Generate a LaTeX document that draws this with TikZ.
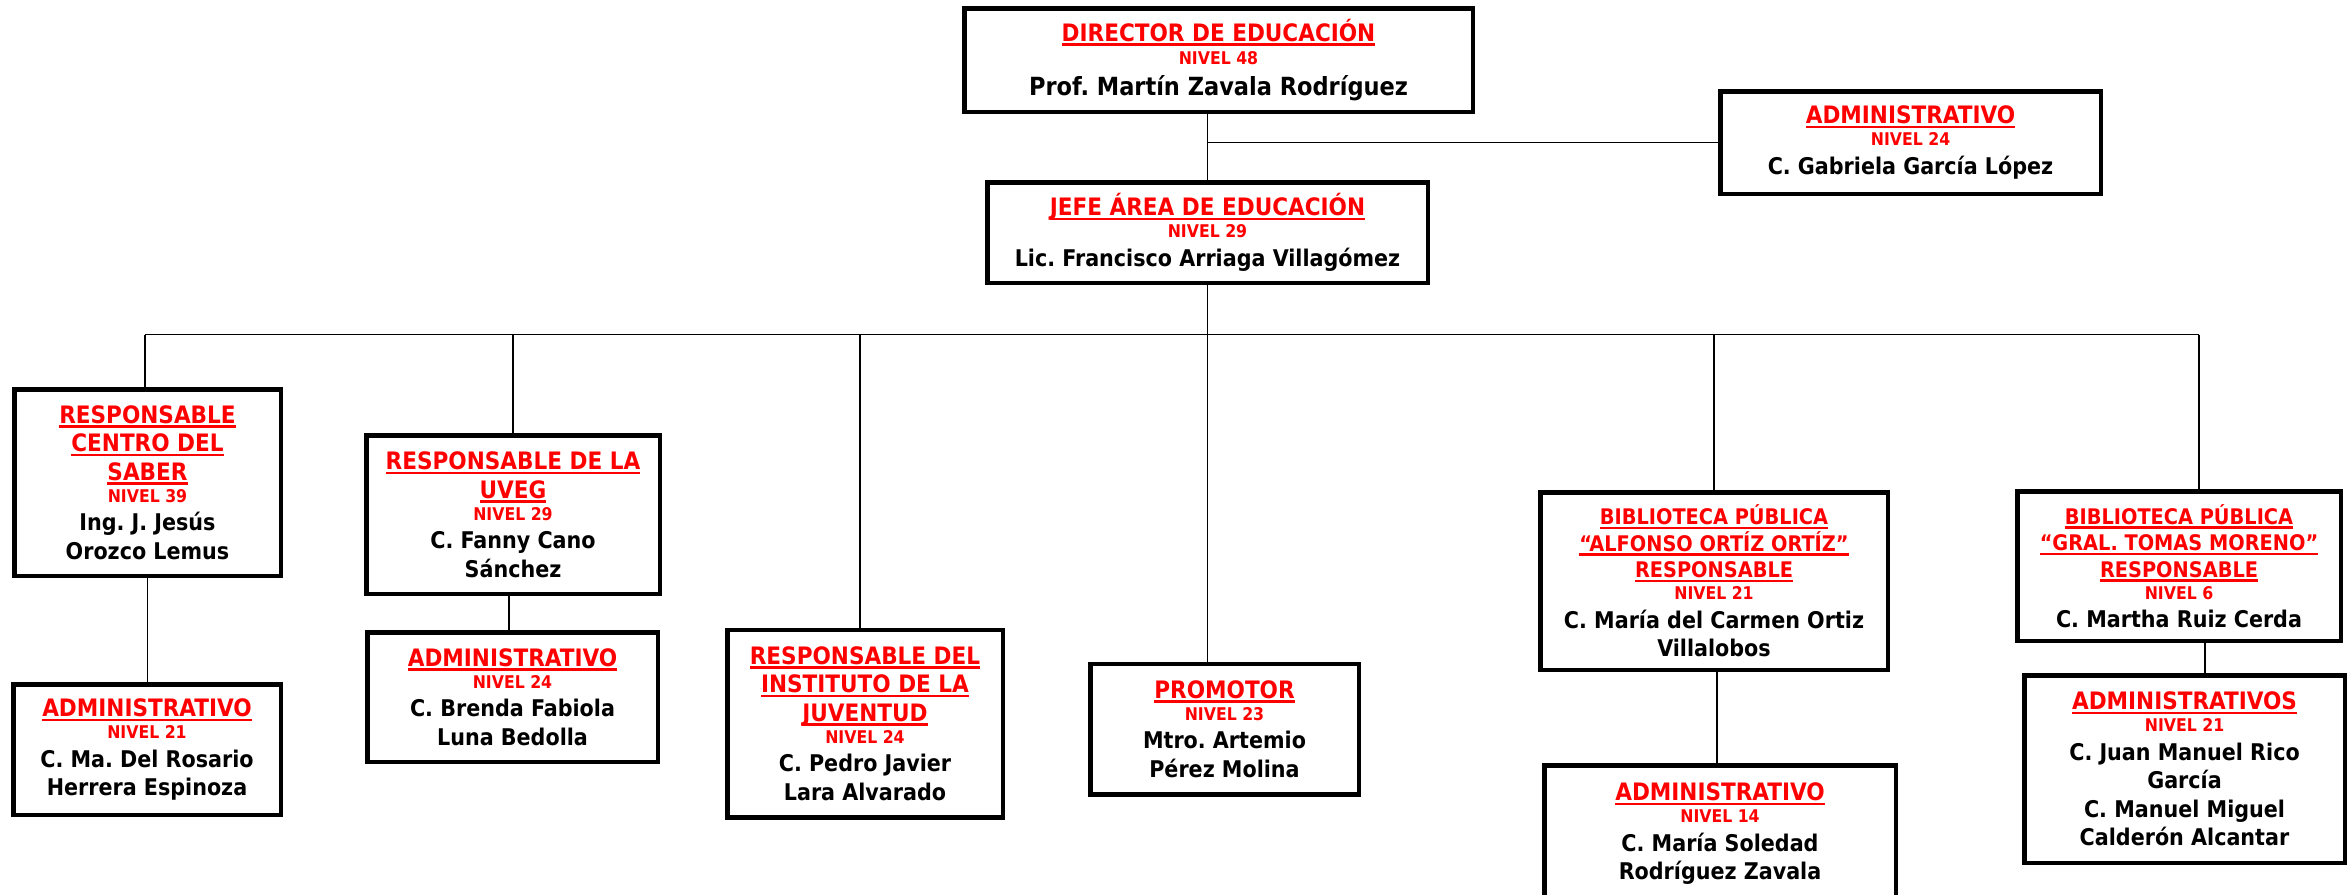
\documentclass[tikz,border=0pt]{standalone}
\usepackage{fontspec}
\setmainfont{DejaVu Sans Condensed}
\newcommand\ulbar[1]{\leavevmode\setbox0\hbox{#1}\rlap{\usebox0}\rule[-4.5pt]{\wd0}{2.5pt}}
\newcommand\ttl[1]{{\color{red}\fontsize{24}{28.5}\selectfont\ulbar{#1}}}
\newcommand\ttb[1]{{\color{red}\fontsize{21.5}{26}\selectfont\ulbar{#1}}}
\newcommand\niv[1]{{\color{red}\fontsize{17.5}{21}\selectfont #1}}
\tikzset{
  box/.style={draw, line width=4.5pt, align=center, inner sep=0pt, text=black,
    font=\frenchspacing\bfseries\fontsize{23}{28.5}\selectfont},
  conn/.style={line width=1.5pt}
}
\begin{document}
\frenchspacing
\begin{tikzpicture}[x=1pt,y=-1pt]
\useasboundingbox (0,0) rectangle (2352,894);
\node[box, minimum width=508.5pt, minimum height=103.5pt, font=\frenchspacing\bfseries\fontsize{25}{31}\selectfont] (dir) at (1218.5,60)
  {\ttl{DIRECTOR DE EDUCACIÓN}\\[-8pt]\niv{NIVEL 48}\\Prof. Martín Zavala Rodríguez};
\node[box, minimum width=380.5pt, minimum height=102.5pt] (adm0) at (1910.5,142.5)
  {\ttl{ADMINISTRATIVO}\\[-6.5pt]\niv{NIVEL 24}\\C. Gabriela García López};
\node[box, minimum width=440.5pt, minimum height=100.5pt] (jefe) at (1207.5,232.5)
  {\ttl{JEFE ÁREA DE EDUCACIÓN}\\[-6.5pt]\niv{NIVEL 29}\\Lic. Francisco Arriaga Villagómez};
\node[box, minimum width=266.5pt, minimum height=186.5pt] (rcs) at (147.5,482.5)
  {\ttl{RESPONSABLE}\\\ttl{CENTRO DEL}\\\ttl{SABER}\\[-6.5pt]\niv{NIVEL 39}\\Ing. J. Jesús\\Orozco Lemus};
\node[box, minimum width=267.5pt, minimum height=130.5pt] (admrcs) at (147,749.5)
  {\ttl{ADMINISTRATIVO}\\[-6.5pt]\niv{NIVEL 21}\\C. Ma. Del Rosario\\Herrera Espinoza};
\node[box, minimum width=293.5pt, minimum height=158.5pt] (uveg) at (513,514.5)
  {\ttl{RESPONSABLE DE LA}\\\ttl{UVEG}\\[-6.5pt]\niv{NIVEL 29}\\C. Fanny Cano\\Sánchez};
\node[box, minimum width=290.5pt, minimum height=129.5pt] (admuveg) at (512.5,697)
  {\ttl{ADMINISTRATIVO}\\[-6.5pt]\niv{NIVEL 24}\\C. Brenda Fabiola\\Luna Bedolla};
\node[box, minimum width=275.5pt, minimum height=187.5pt] (inst) at (865,723.5)
  {\ttl{RESPONSABLE DEL}\\\ttl{INSTITUTO DE LA}\\\ttl{JUVENTUD}\\[-6.5pt]\niv{NIVEL 24}\\C. Pedro Javier\\Lara Alvarado};
\node[box, minimum width=268.5pt, minimum height=130.5pt] (prom) at (1224.5,729)
  {\ttl{PROMOTOR}\\[-6.5pt]\niv{NIVEL 23}\\Mtro. Artemio\\Pérez Molina};
\node[box, minimum width=347.5pt, minimum height=177.5pt] (aoo) at (1714,581)
  {\ttb{BIBLIOTECA PÚBLICA}\\[-2pt]\ttb{“ALFONSO ORTÍZ ORTÍZ”}\\[-2pt]\ttb{RESPONSABLE}\\[-6.5pt]\niv{NIVEL 21}\\C. María del Carmen Ortiz\\Villalobos};
\node[box, minimum width=351.5pt, minimum height=137.5pt] (admaoo) at (1720,834)
  {\ttl{ADMINISTRATIVO}\\[-6.5pt]\niv{NIVEL 14}\\C. María Soledad\\Rodríguez Zavala};
\node[box, minimum width=323.5pt, minimum height=149.5pt] (gtm) at (2179,566)
  {\ttb{BIBLIOTECA PÚBLICA}\\[-2pt]\ttb{“GRAL. TOMAS MORENO”}\\[-2pt]\ttb{RESPONSABLE}\\[-6.5pt]\niv{NIVEL 6}\\C. Martha Ruiz Cerda};
\node[box, minimum width=320.5pt, minimum height=187.5pt] (admgtm) at (2184.5,769)
  {\ttl{ADMINISTRATIVOS}\\[-6.5pt]\niv{NIVEL 21}\\C. Juan Manuel Rico\\García\\C. Manuel Miguel\\Calderón Alcantar};
\coordinate (busL) at (145,334.5);
\coordinate (busR) at (2199,334.5);
\draw[conn] (dir.south -| jefe.north) -- (jefe.north);
\draw[conn] (jefe.north |- adm0.west) -- (adm0.west);
\draw[conn] (busL) -- (busR);
\draw[conn] (jefe.south) -- (jefe.south |- prom.north);
\draw[conn] (busL) -- (busL |- rcs.north);
\draw[conn] (rcs.south) -- (rcs.south |- admrcs.north);
\draw[conn] (uveg.north) -- (uveg.north |- busL);
\draw[conn] ([xshift=-4pt]uveg.south) -- ([xshift=-4pt]uveg.south |- admuveg.north);
\draw[conn] ([xshift=-5pt]inst.north) -- ([xshift=-5pt]inst.north |- busL);
\draw[conn] (aoo.north) -- (aoo.north |- busL);
\draw[conn] ([xshift=3pt]aoo.south) -- ([xshift=3pt]aoo.south |- admaoo.north);
\draw[conn] (busR) -- (busR |- gtm.north);
\draw[conn] ([xshift=26pt]gtm.south) -- ([xshift=26pt]gtm.south |- admgtm.north);
\end{tikzpicture}
\end{document}
